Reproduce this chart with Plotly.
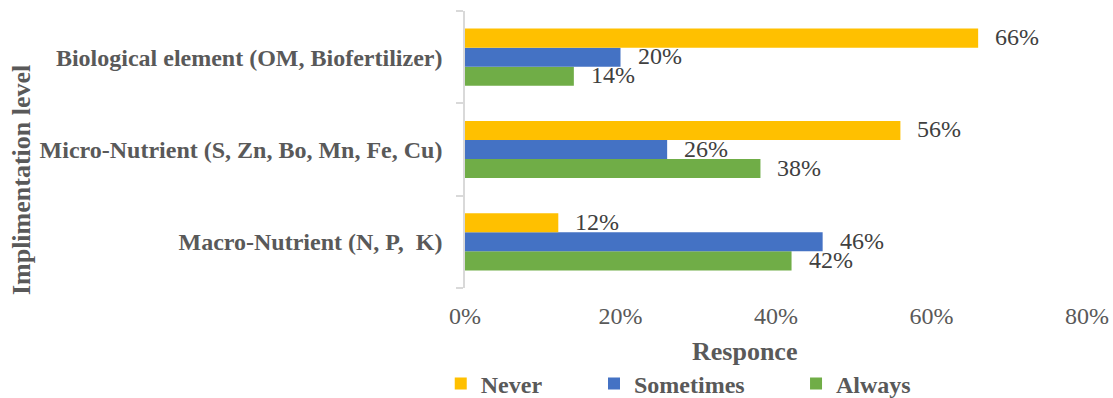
import plotly.graph_objects as go

# Implementation levels (bottom to top) and response shares
categories = [
    "Macro-Nutrient (N, P,  K)",
    "Micro-Nutrient (S, Zn, Bo, Mn, Fe, Cu)",
    "Biological element (OM, Biofertilizer)",
]
never = [0.12, 0.56, 0.66]
sometimes = [0.46, 0.26, 0.20]
always = [0.42, 0.38, 0.14]
x_ticks = [0, 0.2, 0.4, 0.6, 0.8]
x_tick_labels = ["0%", "20%", "40%", "60%", "80%"]

SERIF = "Liberation Serif"
GREY = "#595959"
LABEL = "#404040"

series = [
    ("Always", always, "#70AD47", "legend3"),
    ("Sometimes", sometimes, "#4472C4", "legend2"),
    ("Never", never, "#FFC000", "legend"),
]

fig = go.Figure()
for name, vals, color, leg in series:
    fig.add_trace(go.Bar(
        y=categories, x=vals, name=name, orientation="h",
        marker=dict(color=color, line=dict(width=0)),
        text=[f"{v*100:.0f}%" for v in vals],
        textposition="none",
        legend=leg,
        hoverinfo="x+name",
    ))

# Value labels just past each bar end
n = len(series)
for i, (name, vals, color, leg) in enumerate(series):
    for j, v in enumerate(vals):
        fig.add_annotation(
            x=v, y=j + (i - (n - 1) / 2) * (0.62 / n),
            xref="x", yref="y", text=f"{v*100:.0f}%",
            showarrow=False, xanchor="left", xshift=15, yshift=1,
            font=dict(family=SERIF, size=24, color=LABEL),
        )

# Axis titles
fig.add_annotation(
    x=0.4486, y=-0.231, xref="paper", yref="paper", text="Responce",
    showarrow=False, xanchor="center", yanchor="middle",
    font=dict(family=SERIF, size=26, color=GREY, weight="bold"),
)
fig.add_annotation(
    x=-0.712, y=0.39, xref="paper", yref="paper", text="Implimentation level",
    showarrow=False, textangle=-90, xanchor="center", yanchor="middle",
    font=dict(family=SERIF, size=26, color=GREY, weight="bold"),
)

legend_font = dict(family=SERIF, size=24, color=GREY, weight="bold")
legend_common = dict(
    orientation="h", xref="paper", yref="paper", yanchor="middle",
    font=legend_font, bgcolor="rgba(0,0,0,0)", itemwidth=30,
    tracegroupgap=0,
)

fig.update_layout(
    width=1113, height=398,
    margin=dict(l=465, r=26, t=11, b=110, autoexpand=False),
    paper_bgcolor="white", plot_bgcolor="white",
    showlegend=True,
    barmode="group", bargap=0.38, bargroupgap=0,
    font=dict(family=SERIF, color=GREY),
    xaxis=dict(
        range=[0, 0.8], tickvals=x_ticks, ticktext=x_tick_labels,
        showgrid=False, zeroline=False, showline=False, ticks="",
        tickfont=dict(family=SERIF, size=24, color=GREY),
        ticklabelstandoff=11,
    ),
    yaxis=dict(
        categoryorder="array", categoryarray=categories,
        showgrid=False, zeroline=False,
        showline=True, linecolor="#D9D9D9", linewidth=1.5,
        ticks="outside", ticklen=7, tickcolor="#D9D9D9", tickwidth=1.5,
        tickson="boundaries",
        tickfont=dict(family=SERIF, size=24, color=GREY, weight="bold"),
        ticklabelstandoff=16,
    ),
    legend=dict(x=-0.039, y=-0.3466, **legend_common),
    legend2=dict(x=0.2074, y=-0.3466, **legend_common),
    legend3=dict(x=0.5322, y=-0.3466, **legend_common),
)

fig.write_html("out.html")
